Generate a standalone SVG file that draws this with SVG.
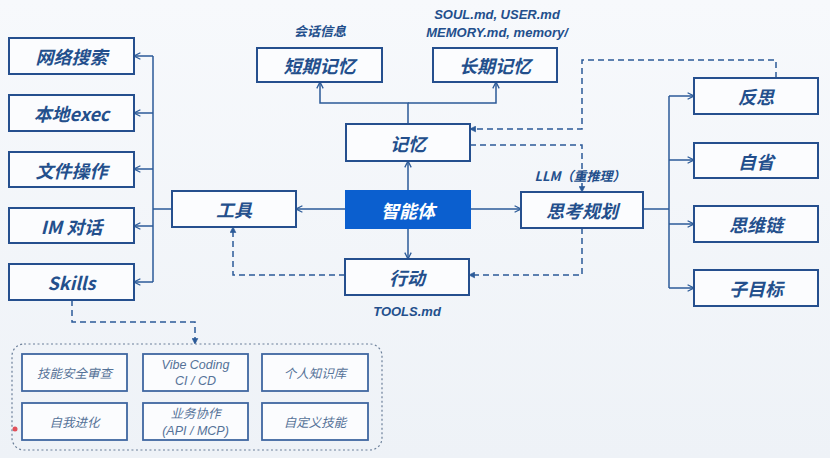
<svg xmlns="http://www.w3.org/2000/svg" width="830" height="458" viewBox="0 0 830 458">
<defs>
<linearGradient id="bg" x1="0" y1="0" x2="0" y2="1">
<stop offset="0" stop-color="#f7f9fc"/>
<stop offset="1" stop-color="#eef2f7"/>
</linearGradient>
<marker id="ah" viewBox="0 0 10 10" refX="9" refY="5" markerWidth="8" markerHeight="8" orient="auto" markerUnits="userSpaceOnUse">
<path d="M1,1 L9,5 L1,9" fill="none" stroke="#2b5a98" stroke-width="1.6"/>
</marker>
<marker id="ahs" viewBox="0 0 10 10" refX="9" refY="5" markerWidth="7" markerHeight="7" orient="auto" markerUnits="userSpaceOnUse">
<path d="M1,1 L9,5 L1,9 Z" fill="#2b5a98" stroke="#2b5a98" stroke-width="1"/>
</marker>
</defs>
<style>
.box{fill:#fbfcfe;stroke:#254f8e;stroke-width:2}
.main{fill:#0b5fcf;stroke:#0b5fcf;stroke-width:2}
.t{font-family:"Noto Sans CJK SC","Liberation Sans",sans-serif;font-size:18px;font-weight:bold;font-style:italic;fill:#234f8c;text-anchor:middle;dominant-baseline:central}
.tw{fill:#ffffff}
.lbl{font-family:"Noto Sans CJK SC","Liberation Sans",sans-serif;font-size:13px;font-weight:bold;font-style:italic;fill:#234f8c;text-anchor:middle}
.lat{font-family:"Liberation Sans",sans-serif;font-size:13px;font-weight:bold;font-style:italic;fill:#234f8c;text-anchor:middle}
.ibox{fill:#fbfcfe;stroke:#3f66a0;stroke-width:1.8}
.it{font-family:"Noto Sans CJK SC","Liberation Sans",sans-serif;font-size:12.5px;font-style:italic;fill:#557298;text-anchor:middle;dominant-baseline:central}
.il{font-family:"Liberation Sans",sans-serif;font-size:12.5px;font-style:italic;fill:#557298;text-anchor:middle}
.ln{fill:none;stroke:#2b5a98;stroke-width:1.5}
.dl{fill:none;stroke:#2b5a98;stroke-width:1.5;stroke-dasharray:6 4}
.grp{fill:none;stroke:#6b7f99;stroke-width:1.2;stroke-dasharray:2 2.5}
</style>
<rect x="0" y="0" width="830" height="458" fill="url(#bg)"/>

<g id="connectors">
<path class="ln" d="M408,191 V161" marker-end="url(#ah)"/>
<path class="ln" d="M408,228 V259" marker-end="url(#ah)"/>
<path class="ln" d="M346,209 H296" marker-end="url(#ah)"/>
<path class="ln" d="M470,209 H521" marker-end="url(#ah)"/>
<path class="ln" d="M408,124 V103 H320 V82" marker-end="url(#ah)"/>
<path class="ln" d="M408,103 H496 V82" marker-end="url(#ah)"/>
<path class="ln" d="M172,209 H153"/>
<path class="ln" d="M153,56 V282"/>
<path class="ln" d="M153,56 H134" marker-end="url(#ah)"/>
<path class="ln" d="M153,113 H134" marker-end="url(#ah)"/>
<path class="ln" d="M153,169 H134" marker-end="url(#ah)"/>
<path class="ln" d="M153,226 H134" marker-end="url(#ah)"/>
<path class="ln" d="M153,282 H134" marker-end="url(#ah)"/>
<path class="ln" d="M643,209 H669"/>
<path class="ln" d="M669,96 V288"/>
<path class="ln" d="M669,96 H694" marker-end="url(#ah)"/>
<path class="ln" d="M669,160 H694" marker-end="url(#ah)"/>
<path class="ln" d="M669,224 H694" marker-end="url(#ah)"/>
<path class="ln" d="M669,288 H694" marker-end="url(#ah)"/>
<path class="dl" d="M776,78 V60 H582 V129 H470" marker-end="url(#ahs)"/>
<path class="dl" d="M470,145 H582 V192" marker-end="url(#ahs)"/>
<path class="dl" d="M582,228 V275 H469" marker-end="url(#ahs)"/>
<path class="dl" d="M345,275 H233 V227" marker-end="url(#ahs)"/>
<path class="dl" d="M72,300 V322 H195 V344" marker-end="url(#ahs)"/>
</g>

<g id="agent"><rect class="main" x="346" y="191" width="124" height="37"/><text class="t tw" x="408" y="209.5">智能体</text></g>
<g id="memory"><rect class="box" x="346" y="124" width="124" height="37"/><text class="t" x="408" y="142.5">记忆</text></g>
<g id="action"><rect class="box" x="345" y="259" width="124" height="36"/><text class="t" x="407" y="277">行动</text></g>
<text class="lat" x="407" y="316">TOOLS.md</text>
<g id="tools"><rect class="box" x="172" y="191" width="124" height="36"/><text class="t" x="234" y="209">工具</text></g>
<g id="planning"><rect class="box" x="521" y="192" width="122" height="36"/><text class="t" x="582" y="210">思考规划</text></g>
<text class="lbl" x="580" y="181">LLM（重推理）</text>

<g id="short-memory"><rect class="box" x="257" y="48" width="125" height="34"/><text class="t" x="319.5" y="65">短期记忆</text></g>
<text class="lbl" x="320" y="36">会话信息</text>
<g id="long-memory"><rect class="box" x="433" y="48" width="124" height="34"/><text class="t" x="495" y="65">长期记忆</text></g>
<text class="lat" x="497" y="19">SOUL.md, USER.md</text>
<text class="lat" x="497" y="37">MEMORY.md, memory/</text>

<g id="web-search"><rect class="box" x="9" y="38" width="125" height="36"/><text class="t" x="71.5" y="56">网络搜索</text></g>
<g id="local-exec"><rect class="box" x="9" y="95" width="125" height="36"/><text class="t" x="71.5" y="113">本地exec</text></g>
<g id="file-ops"><rect class="box" x="9" y="152" width="125" height="35"/><text class="t" x="71.5" y="169.5">文件操作</text></g>
<g id="im-chat"><rect class="box" x="9" y="208" width="125" height="35"/><text class="t" x="71.5" y="225.5">IM 对话</text></g>
<g id="skills"><rect class="box" x="9" y="264" width="125" height="36"/><text class="t" x="71.5" y="282">Skills</text></g>

<g id="reflection"><rect class="box" x="694" y="78" width="124" height="36"/><text class="t" x="756" y="96">反思</text></g>
<g id="introspection"><rect class="box" x="694" y="143" width="124" height="35"/><text class="t" x="756" y="160.5">自省</text></g>
<g id="cot"><rect class="box" x="694" y="206" width="124" height="36"/><text class="t" x="756" y="224">思维链</text></g>
<g id="subgoal"><rect class="box" x="694" y="270" width="124" height="36"/><text class="t" x="756" y="288">子目标</text></g>

<g id="skills-group">
<rect class="grp" x="12" y="344" width="370" height="106" rx="12"/>
<g id="s1"><rect class="ibox" x="22" y="354" width="105" height="37"/><text class="it" x="74.5" y="372.5">技能安全审查</text></g>
<g id="s2"><rect class="ibox" x="143" y="354" width="105" height="37"/><text class="il" x="195.5" y="369">Vibe Coding</text><text class="il" x="195.5" y="385">CI / CD</text></g>
<g id="s3"><rect class="ibox" x="262" y="354" width="106" height="37"/><text class="it" x="315" y="372.5">个人知识库</text></g>
<g id="s4"><rect class="ibox" x="22" y="403" width="105" height="37"/><text class="it" x="74.5" y="421.5">自我进化</text></g>
<g id="s5"><rect class="ibox" x="143" y="403" width="105" height="37"/><text class="it" x="195.5" y="412" font-size="12">业务协作</text><text class="il" x="195.5" y="435">(API / MCP)</text></g>
<g id="s6"><rect class="ibox" x="262" y="403" width="106" height="37"/><text class="it" x="315" y="421.5">自定义技能</text></g>
</g>
<circle cx="15" cy="429" r="2.5" fill="#e0505a"/>
</svg>
